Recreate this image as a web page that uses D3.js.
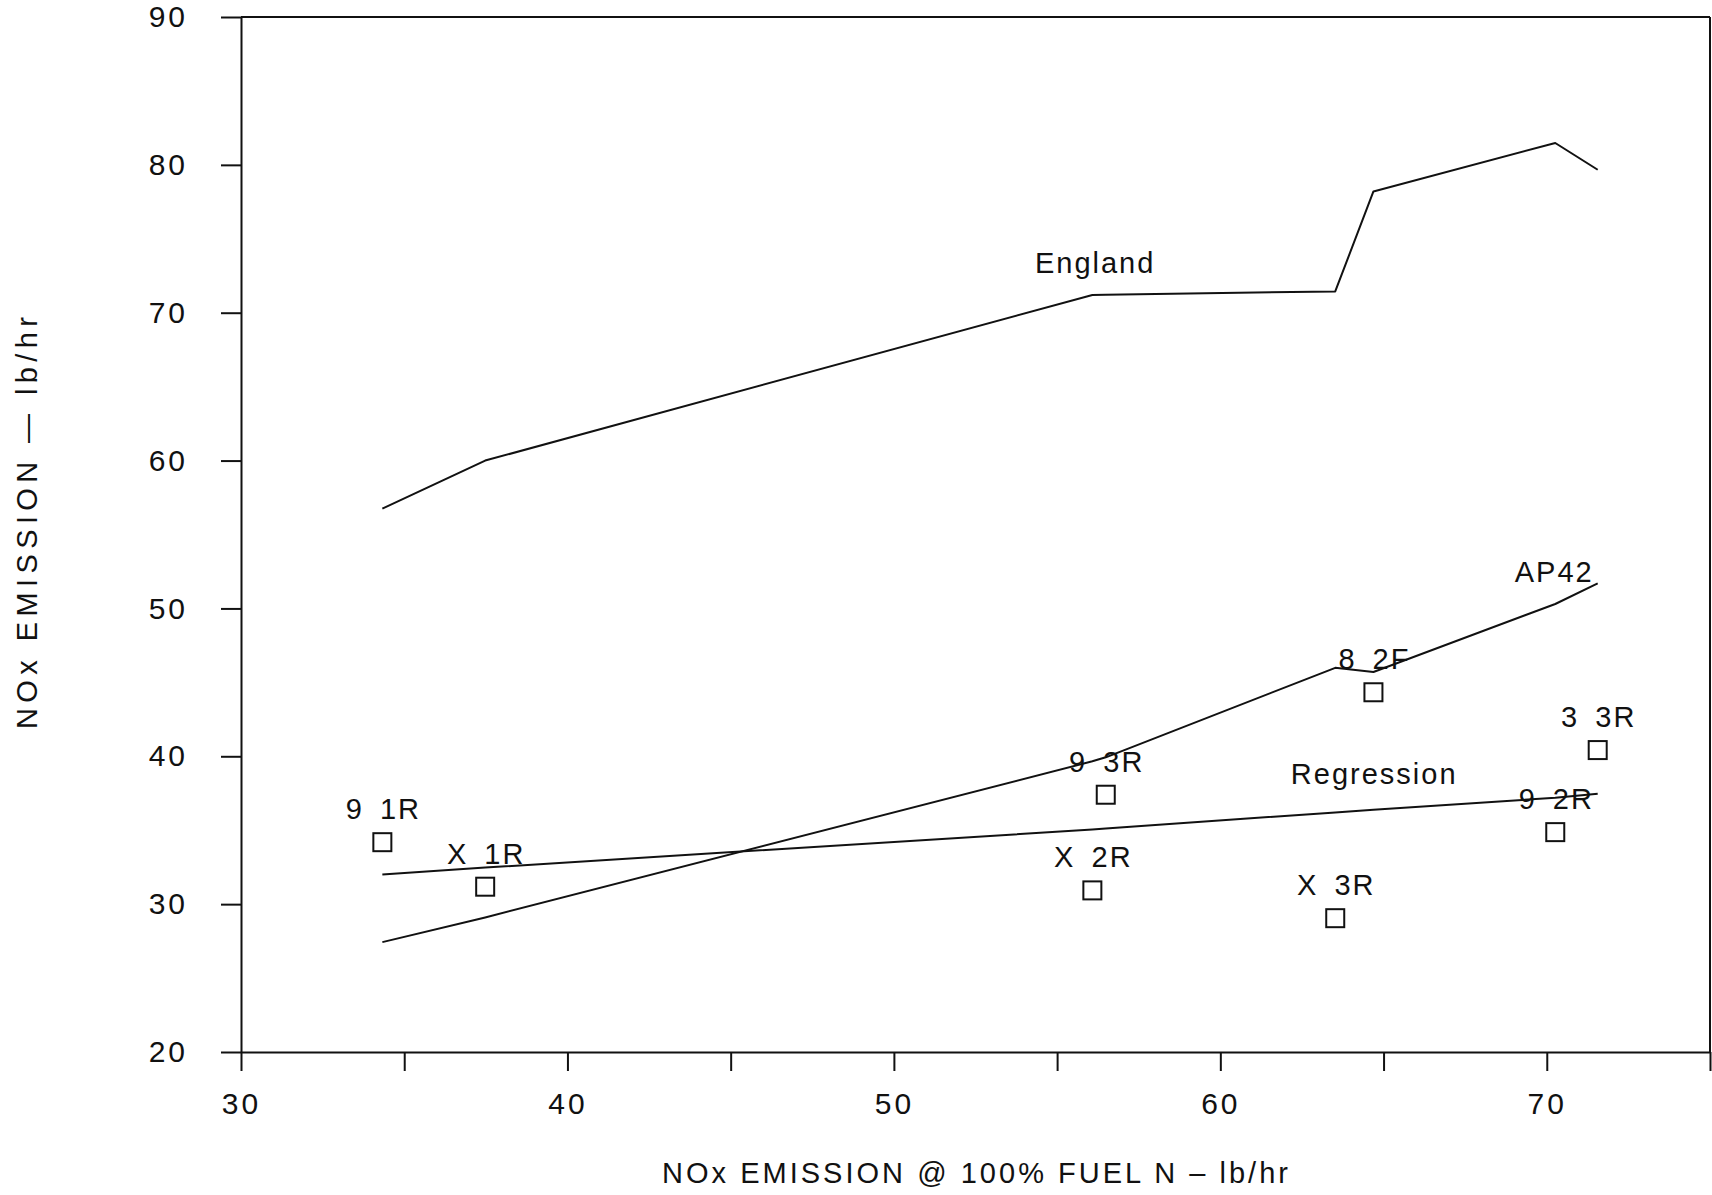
<!DOCTYPE html>
<html>
<head>
<meta charset="utf-8">
<script src="https://cdn.jsdelivr.net/npm/d3@7"></script>
<style>
  html, body { margin: 0; padding: 0; background: #ffffff; }
  svg { display: block; }
  text { font-family: "Liberation Sans", Arial, sans-serif; fill: #111; }
</style>
</head>
<body>
<svg id="chart" width="1712" height="1195"></svg>
<script>
// ---- data ----
const pointLabels = ["9 1R", "X 1R", "X 2R", "9 3R", "X 3R", "8 2F", "9 2R", "3 3R"];
const pointX = [34.33, 37.48, 56.08, 56.49, 63.52, 64.69, 70.26, 71.56];
const pointY = [34.19, 31.18, 30.93, 37.40, 29.05, 44.33, 34.87, 40.42];

const englandY = [56.75, 60.00, 71.20, 71.22, 71.44, 78.20, 81.48, 79.67];
const ap42Y = [27.43, 29.10, 39.66, 39.93, 45.98, 45.70, 50.30, 51.69];
const regressionY = [32.00, 32.47, 35.05, 35.12, 36.20, 36.38, 37.20, 37.47];

const lineNames = ["England", "AP42", "Regression"];
const lineLabelX = [54.32, 69.02, 62.16];
const lineLabelY = [72.67, 51.81, 38.13];

const xTicks = [30, 35, 40, 45, 50, 55, 60, 65, 70, 75];
const xTickLabels = ["30", "", "40", "", "50", "", "60", "", "70", ""];
const yTicks = [20, 30, 40, 50, 60, 70, 80, 90];
const yTickLabels = ["20", "30", "40", "50", "60", "70", "80", "90"];

const xTitle = "NOx EMISSION @ 100% FUEL N – lb/hr";
const yTitle = "NOx EMISSION — lb/hr";

// ---- layout ----
const svg = d3.select("#chart");
const x = d3.scaleLinear().domain([30, 75]).range([241, 1710]);
const y = d3.scaleLinear().domain([20, 90]).range([1052, 17]);

const ink = "#111";

// x axis
const xAxis = d3.axisBottom(x)
  .tickValues(xTicks)
  .tickFormat((d, i) => xTickLabels[i])
  .tickSize(19)
  .tickSizeOuter(0)
  .tickPadding(22);
const gx = svg.append("g").attr("transform", `translate(0,${y(20)})`).call(xAxis);
gx.select(".domain").attr("stroke", ink).attr("stroke-width", 2);
gx.selectAll(".tick line").attr("stroke", ink).attr("stroke-width", 2);
gx.selectAll(".tick text")
  .attr("fill", ink)
  .style("font-size", "30px")
  .style("letter-spacing", "3px")
  .style("font-family", "'Liberation Sans', Arial, sans-serif");

// y axis
const yAxis = d3.axisLeft(y)
  .tickValues(yTicks)
  .tickFormat((d, i) => yTickLabels[i])
  .tickSize(20)
  .tickSizeOuter(0)
  .tickPadding(33);
const gy = svg.append("g").attr("transform", `translate(${x(30)},0)`).call(yAxis);
gy.select(".domain").attr("stroke", ink).attr("stroke-width", 2);
gy.selectAll(".tick line").attr("stroke", ink).attr("stroke-width", 2);
gy.selectAll(".tick text")
  .attr("fill", ink)
  .style("font-size", "30px")
  .style("letter-spacing", "3px")
  .style("font-family", "'Liberation Sans', Arial, sans-serif");

// frame top & right
svg.append("line")
  .attr("x1", x(30)).attr("x2", x(75)).attr("y1", y(90)).attr("y2", y(90))
  .attr("stroke", ink).attr("stroke-width", 2);
svg.append("line")
  .attr("x1", x(75)).attr("x2", x(75)).attr("y1", y(90)).attr("y2", y(20))
  .attr("stroke", ink).attr("stroke-width", 2);

// lines
const lineGen = d3.line().x(d => x(d[0])).y(d => y(d[1]));
[englandY, ap42Y, regressionY].forEach(series => {
  svg.append("path")
    .datum(pointX.map((px, i) => [px, series[i]]))
    .attr("d", lineGen)
    .attr("fill", "none")
    .attr("stroke", ink)
    .attr("stroke-width", 2)
    .attr("stroke-linejoin", "round");
});

// line labels
svg.selectAll(".linelabel")
  .data(lineNames)
  .enter().append("text")
  .attr("class", "linelabel")
  .attr("x", (d, i) => x(lineLabelX[i]))
  .attr("y", (d, i) => y(lineLabelY[i]))
  .style("font-size", "29px")
  .style("letter-spacing", "2px")
  .text(d => d);

// squares
const sq = 18;
svg.selectAll(".pt")
  .data(pointX)
  .enter().append("rect")
  .attr("class", "pt")
  .attr("x", (d) => x(d) - sq / 2)
  .attr("y", (d, i) => y(pointY[i]) - sq / 2)
  .attr("width", sq)
  .attr("height", sq)
  .attr("fill", "none")
  .attr("stroke", ink)
  .attr("stroke-width", 2);

// point labels
svg.selectAll(".ptlabel")
  .data(pointLabels)
  .enter().append("text")
  .attr("class", "ptlabel")
  .attr("x", (d, i) => x(pointX[i]) + 1)
  .attr("y", (d, i) => y(pointY[i]) - 23)
  .attr("text-anchor", "middle")
  .style("font-size", "29px")
  .style("letter-spacing", "2px")
  .style("word-spacing", "6px")
  .text(d => d);

// axis titles
svg.append("text")
  .attr("x", 975)
  .attr("y", 1183)
  .attr("text-anchor", "middle")
  .attr("textLength", 626)
  .attr("lengthAdjust", "spacing")
  .style("font-size", "29px")
  .text(xTitle);

svg.append("text")
  .attr("transform", "translate(37,523) rotate(-90)")
  .attr("text-anchor", "middle")
  .attr("textLength", 412)
  .attr("lengthAdjust", "spacing")
  .style("font-size", "29px")
  .text(yTitle);
</script>
</body>
</html>
